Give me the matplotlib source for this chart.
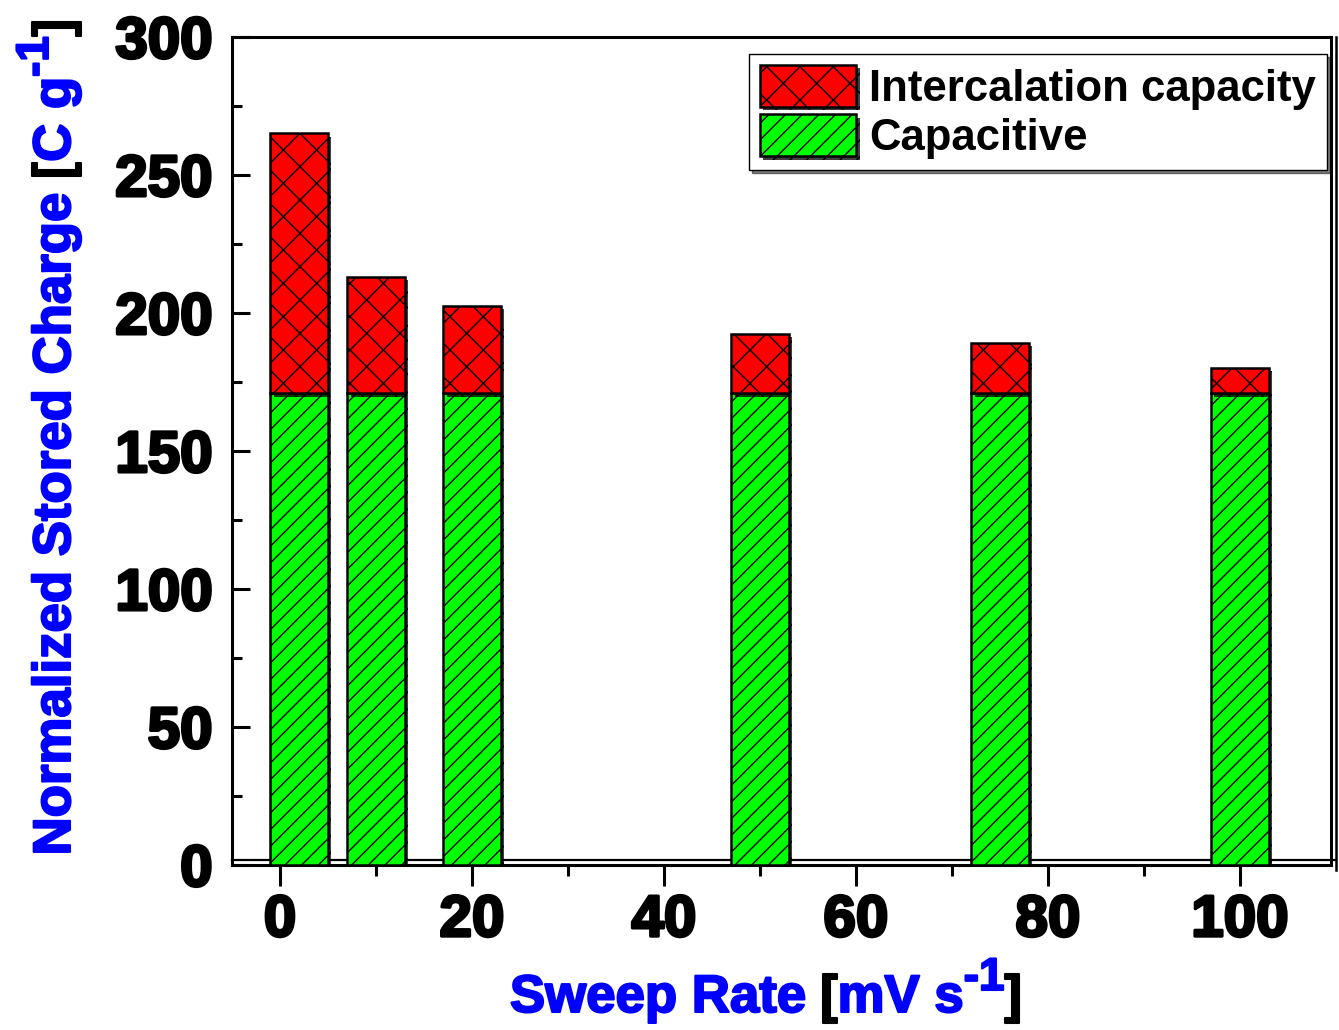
import matplotlib
matplotlib.use("Agg")
import matplotlib.pyplot as plt
import matplotlib.patheffects as pe
import matplotlib.transforms as mtransforms
import numpy as np
from matplotlib.ticker import MultipleLocator

# sweep rates [mV/s] and stored charge [C/g]
sweep_rate = [2, 10, 20, 50, 75, 100]
capacitive = [171, 171, 171, 171, 171, 171]
intercalation = [94.2, 42.2, 31.7, 21.5, 18.2, 9.2]

plt.rcParams['font.family'] = ['Liberation Sans', 'DejaVu Sans']
plt.rcParams['font.weight'] = 'bold'
plt.rcParams['hatch.linewidth'] = 1.0

W, H = 1339, 1030
fig = plt.figure(figsize=(W / 100, H / 100), dpi=100)
ax = fig.add_axes([232 / W, 165 / H, (1331 - 232) / W, (993 - 165) / H])

shadow = [pe.SimplePatchShadow(offset=(2.5, -2.5), shadow_rgbFace='k', alpha=0.75), pe.Normal()]

b1 = ax.bar(sweep_rate, capacitive, width=6, color='#00ff00', edgecolor='k',
            linewidth=1.8, hatch='//', label='Capacitive', zorder=3)
b2 = ax.bar(sweep_rate, intercalation, width=6, bottom=capacitive, color='#ff0000',
            edgecolor='k', linewidth=1.8, hatch='x', label='Intercalation capacity', zorder=3)
for p in list(b1) + list(b2):
    p.set_path_effects(shadow)

ax.set_xlim(-5, 109.5)
ax.set_ylim(0, 300)
ax.xaxis.set_major_locator(MultipleLocator(20))
ax.xaxis.set_minor_locator(MultipleLocator(10))
ax.yaxis.set_major_locator(MultipleLocator(50))
ax.yaxis.set_minor_locator(MultipleLocator(25))

ax.tick_params(axis='y', which='major', direction='in', length=13, width=2.2, pad=14)
ax.tick_params(axis='y', which='minor', direction='in', length=7, width=2.2)
ax.tick_params(axis='x', which='major', direction='out', length=15, width=2.2, pad=6)
ax.tick_params(axis='x', which='minor', direction='out', length=8, width=2.2)
ax.tick_params(labelsize=42)
for lab in ax.get_xticklabels() + ax.get_yticklabels():
    lab.set_fontweight('bold')
    lab.set_path_effects([pe.withStroke(linewidth=2.2, foreground='k')])

for s in ax.spines.values():
    s.set_linewidth(2.2)

# Origin-style doubled right / bottom frame lines
tr_right = mtransforms.offset_copy(ax.transAxes, fig=fig, x=5, y=0, units='dots')
ax.plot([1, 1], [-0.006, 1], transform=tr_right, color='k', lw=1.8, clip_on=False)
tr_bot = mtransforms.offset_copy(ax.transAxes, fig=fig, x=0, y=5, units='dots')
ax.plot([0, 1.004], [0, 0], transform=tr_bot, color='k', lw=1.6, clip_on=False, zorder=1)

handles = [b2, b1]
leg = ax.legend(handles, [h.get_label() for h in handles],
                loc='upper right', bbox_to_anchor=(1327 / W, (H - 54) / H),
                bbox_transform=fig.transFigure, borderaxespad=0,
                prop={'size': 31.5, 'weight': 'bold'}, frameon=True, fancybox=False,
                shadow={'color': 'k', 'alpha': 0.5}, edgecolor='k',
                handlelength=2.2, handleheight=1.1, handletextpad=0.3,
                labelspacing=0.1, borderpad=0.25)
leg.get_frame().set_linewidth(1.0)


def colored_label(parts, cx, cy, rotation=0):
    """Place a run of differently coloured text pieces centred at (cx, cy) in pixels."""
    r = fig.canvas.get_renderer()
    ident = mtransforms.IdentityTransform()
    widths = []
    for txt, color, size, rise in parts:
        a = fig.text(0, 0, txt + '|', fontsize=size, fontweight='bold', transform=ident)
        b = fig.text(0, 0, '|', fontsize=size, fontweight='bold', transform=ident)
        widths.append(a.get_window_extent(r).width - b.get_window_extent(r).width)
        a.remove()
        b.remove()
    pos = -sum(widths) / 2
    for (txt, color, size, rise), w in zip(parts, widths):
        if rotation == 90:
            x, y = cx - rise, cy + pos
        else:
            x, y = cx + pos, cy + rise
        fig.text(x, y, txt, fontsize=size, fontweight='bold', color=color,
                 rotation=rotation, rotation_mode='anchor', ha='left', va='baseline',
                 transform=ident,
                 path_effects=[pe.withStroke(linewidth=1.5, foreground=color)])
        pos += w


blue = '#0000ff'
colored_label([('Sweep Rate ', blue, 38, 0), ('[', 'k', 38, 0), ('mV s', blue, 38, 0),
               ('-1', blue, 33, 22), (']', 'k', 38, 0)], 766, 18)
colored_label([('Normalized Stored Charge ', blue, 38, 0), ('[', 'k', 38, 0),
               ('C g', blue, 38, 0), ('-1', blue, 33, 22), (']', 'k', 38, 0)],
              70, H - 437, rotation=90)

fig.savefig('out.png', dpi=100)
